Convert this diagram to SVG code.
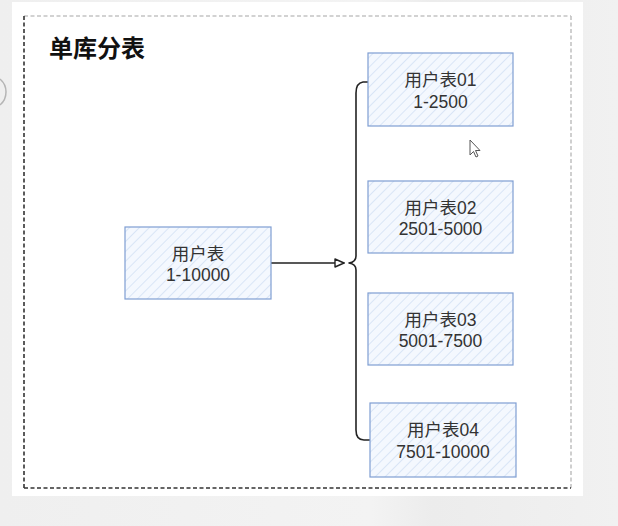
<svg xmlns="http://www.w3.org/2000/svg" width="618" height="526" viewBox="0 0 618 526">
  <defs>
    <pattern id="hatch" patternUnits="userSpaceOnUse" width="7" height="7" patternTransform="rotate(45)">
      <rect width="7" height="7" fill="#f4f8fe"/>
      <line x1="0" y1="0" x2="0" y2="7" stroke="#d9e5f6" stroke-width="2"/>
    </pattern>
    <linearGradient id="bgShade" x1="0" y1="0" x2="1" y2="0">
      <stop offset="0" stop-color="#efefef"/>
      <stop offset="0.6" stop-color="#f3f3f3"/>
      <stop offset="0.7" stop-color="#ececec"/>
      <stop offset="1" stop-color="#f1f1f1"/>
    </linearGradient>
    <marker id="openArrow" markerWidth="12" markerHeight="10" refX="10" refY="5" orient="auto" markerUnits="userSpaceOnUse">
      <path d="M1,1 L10,5 L1,9 Z" fill="#ffffff" stroke="#222" stroke-width="1.4" stroke-linejoin="round"/>
    </marker>
  </defs>
  <style>
    .node rect { fill: url(#hatch); stroke: #7f9ed2; stroke-width: 1.2; }
    .label { font-family: "Liberation Sans", "Noto Sans CJK SC", sans-serif; font-size: 17.5px; fill: #333333; text-anchor: middle; }
    .title { font-family: "Liberation Sans", "Noto Sans CJK SC", sans-serif; font-size: 24px; font-weight: bold; fill: #111111; }
    .edge { fill: none; stroke: #222222; stroke-width: 1.6; stroke-linecap: round; stroke-linejoin: round; }
    .frame-dark { stroke: #333333; stroke-width: 1.6; stroke-dasharray: 4 2.5; fill: none; }
    .frame-light { stroke: #c4c4c4; stroke-width: 1.6; stroke-dasharray: 4 2.5; fill: none; }
  </style>

  <!-- page background and white canvas -->
  <rect x="0" y="0" width="618" height="526" fill="url(#bgShade)"/>
  <rect x="12" y="2" width="571" height="494" fill="#ffffff"/>
  <path d="M0,79 Q6,84 6,92 Q6,100 0,105" fill="none" stroke="#b5b5b5" stroke-width="1.5"/>

  <!-- dashed container frame -->
  <g id="frame">
    <line class="frame-light" x1="24" y1="16" x2="571" y2="16"/>
    <line class="frame-light" x1="571" y1="16" x2="571" y2="488"/>
    <line class="frame-dark" x1="24" y1="16" x2="24" y2="488"/>
    <line class="frame-dark" x1="24" y1="488" x2="571" y2="488"/>
  </g>

  <text class="title" x="49" y="57">单库分表</text>

  <!-- connectors -->
  <g id="connectors">
    <line class="edge" x1="271" y1="263" x2="344" y2="263" marker-end="url(#openArrow)"/>
    <path class="edge" d="M368,82 L363,82 Q356,83 356,93 L356,256 Q356,262 349,263 Q356,264 356,270 L356,430 Q356,440 364,440 L370,440"/>
  </g>

  <g id="node-source" class="node">
    <rect x="125" y="227" width="146" height="72"/>
    <text class="label" x="198" y="259.5">用户表</text>
    <text class="label" x="198" y="281">1-10000</text>
  </g>

  <g id="node-t01" class="node">
    <rect x="368" y="53" width="145" height="73"/>
    <text class="label" x="440.5" y="86">用户表01</text>
    <text class="label" x="440.5" y="108">1-2500</text>
  </g>

  <g id="node-t02" class="node">
    <rect x="368" y="181" width="145" height="72"/>
    <text class="label" x="440.5" y="213.5">用户表02</text>
    <text class="label" x="440.5" y="235">2501-5000</text>
  </g>

  <g id="node-t03" class="node">
    <rect x="368" y="293" width="145" height="72"/>
    <text class="label" x="440.5" y="325.5">用户表03</text>
    <text class="label" x="440.5" y="347">5001-7500</text>
  </g>

  <g id="node-t04" class="node">
    <rect x="370" y="403" width="146" height="74"/>
    <text class="label" x="443" y="436">用户表04</text>
    <text class="label" x="443" y="457.5">7501-10000</text>
  </g>

  <!-- pointer cursor -->
  <path d="M470,140 L470,155 L473.5,151.5 L476,157 L478,156 L475.5,150.5 L480,150.5 Z" fill="#ffffff" stroke="#555555" stroke-width="1" stroke-linejoin="round"/>
</svg>
